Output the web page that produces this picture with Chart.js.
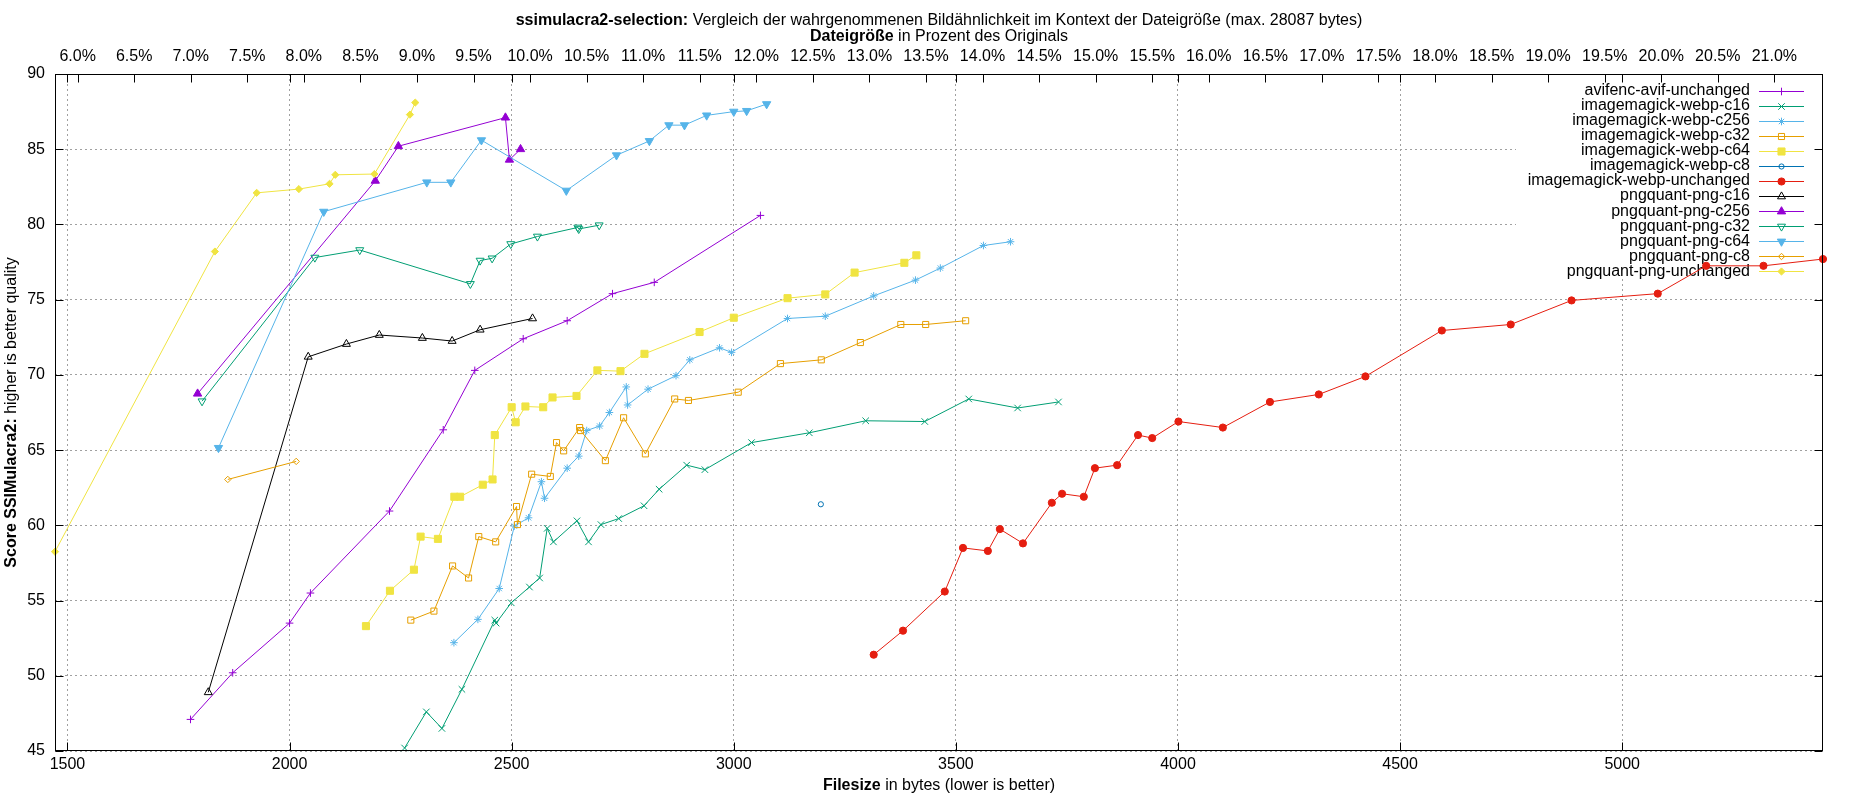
<!DOCTYPE html>
<html>
<head>
<meta charset="utf-8">
<script src="https://cdn.jsdelivr.net/npm/chart.js@4.4.1/dist/chart.umd.min.js"></script>
<style>
html, body { margin: 0; padding: 0; background: #fff; }
canvas { display: block; }
</style>
</head>
<body>
<canvas id="c" width="1850" height="800"></canvas>
<script>
// ---------------- data ----------------
const seriesNames = [
  'avifenc-avif-unchanged', 'imagemagick-webp-c16', 'imagemagick-webp-c256', 'imagemagick-webp-c32',
  'imagemagick-webp-c64', 'imagemagick-webp-c8', 'imagemagick-webp-unchanged', 'pngquant-png-c16',
  'pngquant-png-c256', 'pngquant-png-c32', 'pngquant-png-c64', 'pngquant-png-c8', 'pngquant-png-unchanged'
];

const avifX = [1777, 1872, 2000, 2047, 2225, 2346, 2417, 2526, 2625, 2727, 2821, 3060];
const avifY = [47.1, 50.2, 53.5, 55.5, 60.95, 66.35, 70.3, 72.4, 73.6, 75.4, 76.15, 80.6];

const webpC16X = [2259, 2308, 2343, 2388, 2462, 2465, 2499, 2540, 2563, 2580, 2594, 2647, 2673, 2701, 2741, 2798, 2832, 2894, 2935, 3040, 3170, 3297, 3430, 3529, 3639, 3731];
const webpC16Y = [45.2, 47.6, 46.5, 49.1, 53.7, 53.5, 54.85, 55.9, 56.5, 59.8, 58.9, 60.3, 58.9, 60.05, 60.45, 61.3, 62.4, 64.0, 63.7, 65.5, 66.15, 66.95, 66.9, 68.4, 67.8, 68.2];

const webpC256X = [2370, 2424, 2472, 2506, 2538, 2567, 2574, 2625, 2651, 2669, 2698, 2720, 2758, 2761, 2807, 2870, 2901, 2968, 2995, 3121, 3206, 3315, 3409, 3465, 3562, 3623];
const webpC256Y = [52.2, 53.75, 55.8, 59.95, 60.5, 62.9, 61.8, 63.8, 64.6, 66.3, 66.6, 67.5, 69.2, 68.0, 69.05, 69.95, 71.0, 71.8, 71.5, 73.75, 73.9, 75.25, 76.3, 77.1, 78.6, 78.85];

const webpC32X = [2273, 2325, 2367, 2403, 2426, 2464, 2511, 2513, 2545, 2587, 2601, 2617, 2653, 2655, 2711, 2752, 2801, 2867, 2898, 3010, 3105, 3197, 3285, 3376, 3432, 3522];
const webpC32Y = [53.7, 54.3, 57.3, 56.5, 59.25, 58.9, 61.25, 60.05, 63.4, 63.25, 65.5, 64.95, 66.5, 66.3, 64.3, 67.15, 64.75, 68.4, 68.3, 68.85, 70.75, 71.0, 72.15, 73.35, 73.35, 73.6];

const webpC64X = [2172, 2226, 2280, 2295, 2334, 2371, 2384, 2435, 2457, 2462, 2500, 2509, 2531, 2571, 2592, 2646, 2693, 2745, 2799, 2923, 3000, 3121, 3206, 3272, 3384, 3411];
const webpC64Y = [53.3, 55.65, 57.05, 59.25, 59.1, 61.9, 61.9, 62.7, 63.05, 66.0, 67.85, 66.85, 67.9, 67.85, 68.5, 68.6, 70.3, 70.25, 71.4, 72.85, 73.8, 75.1, 75.35, 76.8, 77.45, 77.95];

const webpC8X = [3196];
const webpC8Y = [61.4];

const webpUnchX = [3315, 3381, 3475, 3516, 3572, 3599, 3651, 3716, 3739, 3788, 3813, 3863, 3910, 3942, 4001, 4101, 4207, 4317, 4422, 4594, 4749, 4886, 5080, 5189, 5318, 5452];
const webpUnchY = [51.4, 53.0, 55.6, 58.5, 58.3, 59.75, 58.8, 61.5, 62.1, 61.9, 63.8, 64.0, 66.0, 65.8, 66.9, 66.5, 68.2, 68.7, 69.9, 72.95, 73.35, 74.95, 75.4, 77.25, 77.25, 77.7];

const pngC16X = [1817, 2042, 2128, 2202, 2299, 2366, 2429, 2547];
const pngC16Y = [48.9, 71.2, 72.05, 72.65, 72.45, 72.25, 73.0, 73.75];

const pngC256X = [1793, 2193, 2245, 2486, 2495, 2520];
const pngC256Y = [68.75, 82.9, 85.2, 87.1, 84.3, 85.0];

const pngC32X = [1803, 2057, 2158, 2407, 2429, 2456, 2498, 2558, 2649, 2651, 2697];
const pngC32Y = [68.25, 77.8, 78.3, 76.05, 77.6, 77.75, 78.7, 79.2, 79.8, 79.7, 79.95];

const pngC64X = [1840, 2077, 2309, 2363, 2432, 2623, 2736, 2810, 2854, 2889, 2939, 3000, 3029, 3074];
const pngC64Y = [65.15, 80.85, 82.8, 82.8, 85.6, 82.25, 84.6, 85.55, 86.6, 86.6, 87.25, 87.5, 87.55, 88.0];

const pngC8X = [1861, 2015];
const pngC8Y = [63.05, 64.25];

const pngUnchX = [1472, 1832, 1926, 2021, 2090, 2103, 2191, 2271, 2283];
const pngUnchY = [58.25, 78.2, 82.1, 82.35, 82.7, 83.3, 83.35, 87.3, 88.1];

const seriesX = [avifX, webpC16X, webpC256X, webpC32X, webpC64X, webpC8X, webpUnchX, pngC16X, pngC256X, pngC32X, pngC64X, pngC8X, pngUnchX];
const seriesY = [avifY, webpC16Y, webpC256Y, webpC32Y, webpC64Y, webpC8Y, webpUnchY, pngC16Y, pngC256Y, pngC32Y, pngC64Y, pngC8Y, pngUnchY];

// tick labels
const xTickValues = [1500, 2000, 2500, 3000, 3500, 4000, 4500, 5000];
const x2TickValues = [6.0, 6.5, 7.0, 7.5, 8.0, 8.5, 9.0, 9.5, 10.0, 10.5, 11.0, 11.5, 12.0, 12.5, 13.0, 13.5, 14.0, 14.5, 15.0, 15.5, 16.0, 16.5, 17.0, 17.5, 18.0, 18.5, 19.0, 19.5, 20.0, 20.5, 21.0];
const yTickValues = [45, 50, 55, 60, 65, 70, 75, 80, 85, 90];

// ---------------- text ----------------
const titleLine1 = [['ssimulacra2-selection:', true], [' Vergleich der wahrgenommenen Bildähnlichkeit im Kontext der Dateigröße (max. 28087 bytes)', false]];
const titleLine2 = [['Dateigröße', true], [' in Prozent des Originals', false]];
const xTitle = [['Filesize', true], [' in bytes (lower is better)', false]];
const yTitle = [['Score SSIMulacra2:', true], [' higher is better quality', false]];

// ---------------- styles (kept apart from data) ----------------
const FONT = '"Liberation Sans", Arial, Helvetica, sans-serif';
const styles = [
  { color: '#9400d3', point: 'cross',    r: 3.8, fill: false, rot: 0 },
  { color: '#009e73', point: 'crossRot', r: 4.6, fill: false, rot: 0 },
  { color: '#56b4e9', point: 'star',     r: 3.8, fill: false, rot: 0 },
  { color: '#e69f00', point: 'rect',     r: 4.3, fill: false, rot: 0 },
  { color: '#f0e442', point: 'rect',     r: 5.0, fill: true,  rot: 0 },
  { color: '#0072b2', point: 'circle',   r: 2.6, fill: false, rot: 0 },
  { color: '#e51e10', point: 'circle',   r: 3.6, fill: true,  rot: 0 },
  { color: '#000000', point: 'triangle', r: 4.6, fill: false, rot: 0 },
  { color: '#9400d3', point: 'triangle', r: 4.8, fill: true,  rot: 0 },
  { color: '#009e73', point: 'triangle', r: 4.6, fill: false, rot: 180 },
  { color: '#56b4e9', point: 'triangle', r: 4.8, fill: true,  rot: 180 },
  { color: '#e69f00', point: 'rectRot',  r: 3.2, fill: false, rot: 0 },
  { color: '#f0e442', point: 'rectRot',  r: 3.6, fill: true,  rot: 0 }
];

const datasets = seriesNames.map((name, i) => {
  const st = styles[i];
  const bg = st.fill ? st.color : 'rgba(0,0,0,0)';
  return {
    label: name,
    data: seriesX[i].map((xv, k) => ({ x: xv, y: seriesY[i][k] })),
    showLine: true,
    borderColor: st.color,
    backgroundColor: bg,
    borderWidth: 1,
    tension: 0,
    pointStyle: st.point,
    pointRadius: st.r,
    pointHoverRadius: st.r,
    pointRotation: st.rot,
    pointBorderWidth: 1,
    pointBorderColor: st.color,
    pointBackgroundColor: bg,
    clip: false,
    order: seriesNames.length - i,
    xAxisID: 'x',
    yAxisID: 'y'
  };
});

function drawMixed(ctx, parts, cx, cy, size) {
  ctx.save();
  ctx.textBaseline = 'middle';
  ctx.textAlign = 'left';
  ctx.fillStyle = '#000';
  let total = 0;
  parts.forEach(p => { ctx.font = (p[1] ? 'bold ' : '') + size + 'px ' + FONT; total += ctx.measureText(p[0]).width; });
  let x = cx - total / 2;
  parts.forEach(p => {
    ctx.font = (p[1] ? 'bold ' : '') + size + 'px ' + FONT;
    ctx.fillText(p[0], x, cy);
    x += ctx.measureText(p[0]).width;
  });
  ctx.restore();
}

const legendPlugin = {
  id: 'gpLegend',
  beforeDatasetsDraw(chart) {
    const ctx = chart.ctx, ca = chart.chartArea;
    ctx.save();
    // opaque key box
    ctx.fillStyle = '#fff';
    ctx.fillRect(1516, ca.top + 1, ca.right - 1 - 1516, 277 - ca.top - 1);
    ctx.font = '16px ' + FONT;
    ctx.textAlign = 'right';
    ctx.textBaseline = 'middle';
    chart.data.datasets.forEach((ds, i) => {
      const y = 90.5 + i * 15.08;
      ctx.fillStyle = '#000';
      ctx.fillText(ds.label, 1750, y);
      ctx.strokeStyle = ds.borderColor;
      ctx.lineWidth = 1;
      ctx.beginPath();
      ctx.moveTo(1759, Math.round(y) + 0.5);
      ctx.lineTo(1804, Math.round(y) + 0.5);
      ctx.stroke();
      ctx.fillStyle = ds.pointBackgroundColor;
      ctx.strokeStyle = ds.pointBorderColor;
      Chart.helpers.drawPoint(ctx, {
        pointStyle: ds.pointStyle, rotation: ds.pointRotation, radius: ds.pointRadius, borderWidth: 1
      }, 1781.5, Math.round(y) + 0.5);
    });
    ctx.restore();
  }
};

const framePlugin = {
  id: 'gpFrame',
  afterDatasetsDraw(chart) {
    const ctx = chart.ctx, ca = chart.chartArea;
    const L = Math.round(ca.left) + 0.5, R = Math.round(ca.right) - 0.5;
    const T = Math.round(ca.top) + 0.5, B = Math.round(ca.bottom) - 0.5;
    const TL = 8;
    ctx.save();
    ctx.strokeStyle = '#000';
    ctx.lineWidth = 1;
    ctx.beginPath();
    const xs = chart.scales.x, x2 = chart.scales.x2, ys = chart.scales.y;
    xs.ticks.forEach(t => {
      const px = Math.round(xs.getPixelForValue(t.value)) + 0.5;
      ctx.moveTo(px, B); ctx.lineTo(px, B - TL);
      ctx.moveTo(px, T); ctx.lineTo(px, T + TL);
    });
    x2.ticks.forEach(t => {
      const px = Math.round(x2.getPixelForValue(t.value)) + 0.5;
      ctx.moveTo(px, T); ctx.lineTo(px, T + TL);
    });
    ys.ticks.forEach(t => {
      const py = Math.round(ys.getPixelForValue(t.value)) + 0.5;
      ctx.moveTo(L, py); ctx.lineTo(L + TL, py);
      ctx.moveTo(R, py); ctx.lineTo(R - TL, py);
    });
    ctx.stroke();
    ctx.strokeRect(L, T, R - L, B - T);
    ctx.restore();
  },
  afterDraw(chart) {
    const ctx = chart.ctx, ca = chart.chartArea;
    const cx = (ca.left + ca.right) / 2;
    drawMixed(ctx, titleLine1, cx, 21, 16);
    drawMixed(ctx, titleLine2, cx, 36.5, 16);
    drawMixed(ctx, xTitle, cx, 786, 16);
    ctx.save();
    ctx.translate(12, (ca.top + ca.bottom) / 2);
    ctx.rotate(-Math.PI / 2);
    drawMixed(ctx, yTitle, 0, 0, 16);
    ctx.restore();
  }
};

const tickFont = { family: FONT, size: 16 };

new Chart(document.getElementById('c'), {
  type: 'scatter',
  data: { datasets },
  plugins: [legendPlugin, framePlugin],
  options: {
    responsive: false,
    animation: false,
    events: [],
    layout: { padding: { left: 0, right: 27, top: 0, bottom: 0 } },
    plugins: { legend: { display: false }, title: { display: false }, tooltip: { enabled: false } },
    scales: {
      x: {
        type: 'linear', position: 'bottom', min: 1472, max: 5452,
        afterBuildTicks: s => { s.ticks = xTickValues.map(v => ({ value: v })); },
        ticks: { autoSkip: false, maxRotation: 0, color: '#000', font: tickFont, padding: 4,
                 callback: v => String(v) },
        grid: { color: '#a0a0a0', lineWidth: 1, drawTicks: false },
        border: { display: false, dash: [2, 3] },
        afterFit: s => { s.height = 49; }
      },
      x2: {
        type: 'linear', position: 'top', min: 5.80, max: 21.43,
        afterBuildTicks: s => { s.ticks = x2TickValues.map(v => ({ value: v })); },
        ticks: { autoSkip: false, maxRotation: 0, color: '#000', font: tickFont, padding: 8,
                 callback: v => Number(v).toFixed(1) + '%' },
        grid: { display: false, drawTicks: false },
        border: { display: false },
        afterFit: s => { s.height = 74; }
      },
      y: {
        type: 'linear', position: 'left', min: 45, max: 90,
        afterBuildTicks: s => { s.ticks = yTickValues.map(v => ({ value: v })); },
        ticks: { autoSkip: false, color: '#000', font: tickFont, padding: 10, callback: v => String(v) },
        grid: { color: '#a0a0a0', lineWidth: 1, drawTicks: false },
        border: { display: false, dash: [2, 3] },
        afterFit: s => { s.width = 55; }
      }
    }
  }
});
</script>
</body>
</html>
